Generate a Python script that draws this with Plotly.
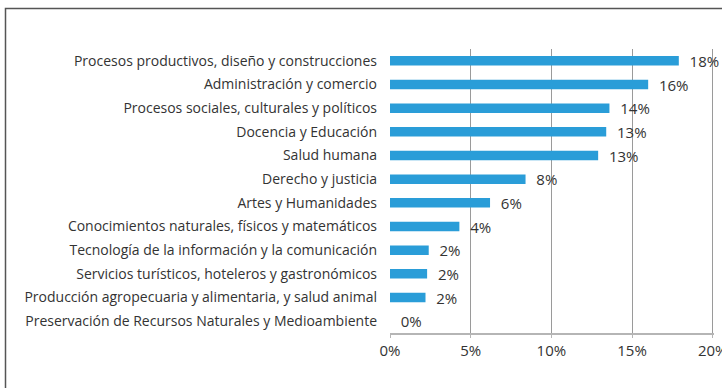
import plotly.graph_objects as go

# Share of graduates by field of study (fraction of total)
categories = [
    "Procesos productivos, diseño y construcciones",
    "Administración y comercio",
    "Procesos sociales, culturales y políticos",
    "Docencia y Educación",
    "Salud humana",
    "Derecho y justicia",
    "Artes y Humanidades",
    "Conocimientos naturales, físicos y matemáticos",
    "Tecnología de la información y la comunicación",
    "Servicios turísticos, hoteleros y gastronómicos",
    "Producción agropecuaria y alimentaria, y salud animal",
    "Preservación de Recursos Naturales y Medioambiente",
]
shares = [0.179, 0.160, 0.136, 0.134, 0.129, 0.084, 0.062, 0.043, 0.024, 0.023, 0.022, 0.0]

x_ticks = [0, 0.05, 0.10, 0.15, 0.20]
x_tick_labels = ["0%", "5%", "10%", "15%", "20%"]

BAR_COLOR = "#2a9dd8"
TEXT_COLOR = "#333333"
FONT = "Open Sans"

fig = go.Figure(
    go.Bar(
        x=shares,
        y=categories,
        orientation="h",
        marker=dict(color=BAR_COLOR, line=dict(width=0)),
        texttemplate="  %{x:.0%}",
        textposition="outside",
        constraintext="none",
        cliponaxis=False,
        textfont=dict(family=FONT, size=15, color=TEXT_COLOR),
        hoverinfo="skip",
    )
)

fig.update_layout(
    width=722,
    height=388,
    margin=dict(l=390, r=8, t=49, b=55),
    paper_bgcolor="white",
    plot_bgcolor="white",
    bargap=0.6,
    showlegend=False,
    uniformtext=dict(minsize=15, mode="show"),
    font=dict(family=FONT, color=TEXT_COLOR),
    xaxis=dict(
        range=[0, 0.2008],
        automargin=False,
        tickvals=x_ticks,
        ticktext=x_tick_labels,
        ticklabeloverflow="allow",
        showgrid=True,
        gridcolor="#9a9a9a",
        gridwidth=1,
        zeroline=False,
        showline=True,
        linecolor="#b5b5b5",
        linewidth=2,
        ticks="outside",
        ticklen=3,
        tickcolor="#b5b5b5",
        tickfont=dict(family=FONT, size=15, color=TEXT_COLOR),
    ),
    yaxis=dict(
        automargin=False,
        categoryorder="array",
        categoryarray=categories[::-1],
        showgrid=False,
        zeroline=False,
        showline=False,
        ticks="",
        ticklabelstandoff=12,
        tickfont=dict(family=FONT, size=14, color=TEXT_COLOR),
    ),
    shapes=[
        dict(
            type="rect",
            xref="paper",
            yref="paper",
            x0=(5.5 - 390) / 324,
            x1=1.2,
            y0=-0.3,
            y1=1 + (49 - 8.5) / 284,
            line=dict(color="#555555", width=1.5),
            fillcolor="rgba(0,0,0,0)",
            layer="below",
        )
    ],
)

fig.write_html("out.html")
